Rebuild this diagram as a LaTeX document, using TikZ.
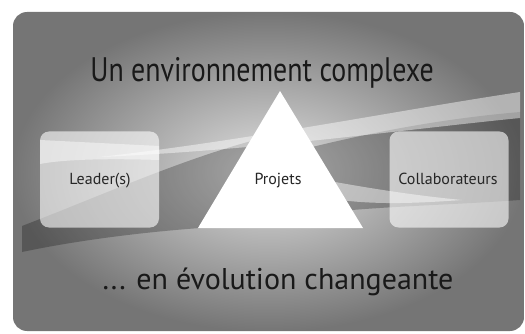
\documentclass[tikz,border=0pt]{standalone}
\usepackage{fontspec}
\setmainfont{PT Sans}
\newfontfamily\condfont[FakeStretch=0.82]{PT Sans}
\usetikzlibrary{shapes,shapes.misc}

\begin{document}
\begin{tikzpicture}[x=1pt,y=-1pt]
   \useasboundingbox (0,0) rectangle (525,334);
   \tikzstyle{panel}=[rounded corners=14pt]
   \tikzstyle{dark}=[fill=black, fill opacity=0.25]
   \tikzstyle{light}=[fill=white, fill opacity=0.45]
   \tikzstyle{box}=[rounded corners=9pt, fill=white, fill opacity=0.6, minimum width=119pt, minimum height=96pt]
   \tikzstyle{lab}=[text=black!85, font=\fontsize{16}{18}\selectfont, anchor=base]
   \tikzstyle{big}=[text=black!90, anchor=base]
   \shade[panel, inner color=black!12, outer color=black!54] (13,12) rectangle (524,331);
   % swooshes behind the boxes
   \fill[dark] (22,226) .. controls (100,196) and (180,160) .. (255,140) -- (200,228) .. controls (120,234) and (60,244) .. (22,252) -- cycle;
   \fill[dark] (300,150) .. controls (380,130) and (450,118) .. (520,112) -- (520,200) .. controls (450,205) and (390,206) .. (330,212) -- cycle;
   \fill[light] (100,157) .. controls (250,140) and (400,110) .. (520,92) -- (520,118) .. controls (400,130) and (260,150) .. cycle;
   \fill[light] (40,140) -- (159,146) -- (159,160) .. controls (100,158) and (60,160) .. (40,164) -- cycle;
   \fill[light] (335,182) .. controls (380,190) and (420,196) .. (462,200) .. controls (420,203) and (380,205) .. (340,200) -- cycle;
   % triangle
   \coordinate (top) at (280,91);
   \fill[white] (top) -- (363,228) -- (198,228) -- cycle;
   \node[lab] (projets) at (278,185) {Projets};
   \node[box] (leader) at (99.5,179.5) {};
   \node[box] (collab) at (449,179.5) {};
   \node[lab] (leadertxt) at (100,185) {Leader(s)};
   \node[lab] (collabtxt) at (448,185) {Collaborateurs};
   \node[big, font=\condfont\fontsize{34}{38}\selectfont] (title) at (262,82) {Un environnement complexe};
   \node[big, font=\fontsize{30}{34}\selectfont] (evol) at (278,289) {... en évolution changeante};
\end{tikzpicture}
\end{document}
